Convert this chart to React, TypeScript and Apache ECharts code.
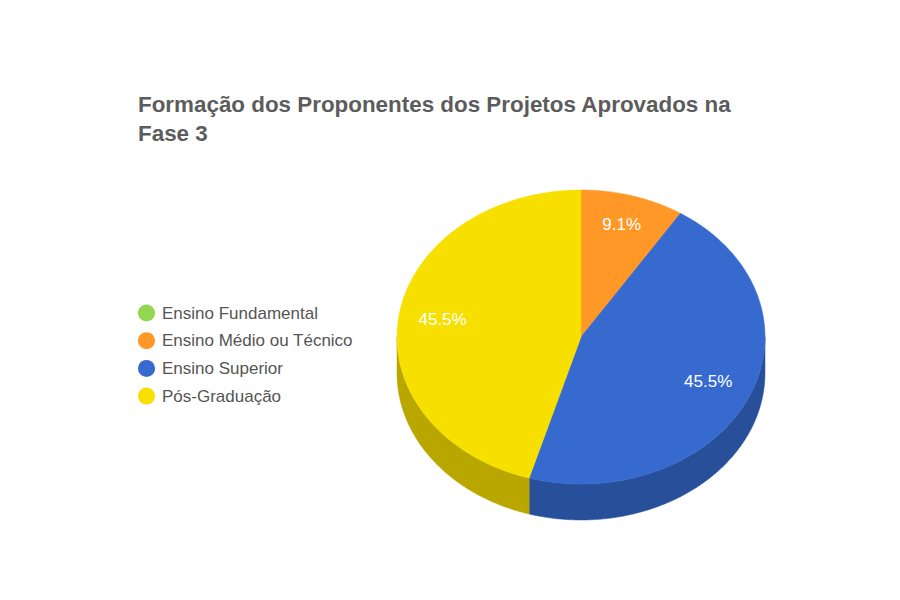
import React, { useEffect, useRef } from "react";
import * as echarts from "echarts";

const categories = ["Ensino Fundamental", "Ensino Médio ou Técnico", "Ensino Superior", "Pós-Graduação"];
const values = [0, 1, 5, 5];
const topColors = ["#93d64f", "#ff9826", "#366ace", "#f7df00"];
const sideColors = ["#6ea03b", "#bf721d", "#28509a", "#b9a700"];
const titleLines = ["Formação dos Proponentes dos Projetos Aprovados na", "Fase 3"];

const CX = 581;
const CY = 337;
const RX = 184;
const RY = 147;
const DEPTH = 36;
const LABEL_R = [0.77, 0.785, 0.76, 0.76];
const total = values.reduce((a, b) => a + b, 0);

const pt = (deg: number, rx: number, ry: number, dy = 0): number[] => {
  const a = (deg * Math.PI) / 180;
  return [CX + rx * Math.sin(a), CY + dy - ry * Math.cos(a)];
};

const arc = (from: number, to: number, dy = 0): number[][] => {
  const out: number[][] = [];
  const n = Math.max(2, Math.ceil((to - from) * 2));
  for (let i = 0; i <= n; i++) out.push(pt(from + ((to - from) * i) / n, RX, RY, dy));
  return out;
};

function makeSeries(index: number) {
  const before = values.slice(0, index).reduce((a, b) => a + b, 0);
  return {
    type: "custom",
    name: categories[index],
    coordinateSystem: "none",
    silent: true,
    itemStyle: { color: topColors[index] },
    data: [[values[index]]],
    renderItem: (_params: unknown, api: any) => {
      const v = api.value(0) as number;
      if (!v) return { type: "group", children: [] };
      const start = (before / total) * 360;
      const end = ((before + v) / total) * 360;
      const children: any[] = [];
      const wallFrom = Math.max(start, 90);
      const wallTo = Math.min(end, 270);
      if (wallTo > wallFrom) {
        children.push({
          type: "polygon",
          shape: { points: [...arc(wallFrom, wallTo), ...arc(wallFrom, wallTo, DEPTH).reverse()] },
          style: { fill: sideColors[index], stroke: sideColors[index], lineWidth: 0.5 },
        });
      }
      children.push({
        type: "polygon",
        shape: { points: [[CX, CY], ...arc(start, end)] },
        style: { fill: topColors[index], stroke: topColors[index], lineWidth: 0.5 },
      });
      const [lx, ly] = pt((start + end) / 2, RX * LABEL_R[index], RY * LABEL_R[index], -1.5);
      children.push({
        type: "text",
        x: lx,
        y: ly,
        style: {
          text: `${((v / total) * 100).toFixed(1)}%`,
          fill: "#ffffff",
          font: '17px "Liberation Sans", Arial, sans-serif',
          align: "center",
          verticalAlign: "middle",
        },
      });
      return { type: "group", children };
    },
  };
}

export default function App() {
  const ref = useRef<HTMLDivElement>(null);
  useEffect(() => {
    const chart = echarts.init(ref.current!, null, { renderer: "svg" });
    chart.setOption({
      animation: false,
      backgroundColor: "#ffffff",
      title: {
        text: titleLines.join("\n"),
        left: 133,
        top: 85,
        textStyle: {
          fontFamily: '"Liberation Sans", Arial, sans-serif',
          fontWeight: "bold",
          fontSize: 22.4,
          lineHeight: 29,
          color: "#5c5c5c",
        },
      },
      legend: {
        orient: "vertical",
        left: 133,
        top: 299.5,
        icon: "circle",
        itemWidth: 17,
        itemHeight: 17,
        itemGap: 10.7,
        selectedMode: false,
        data: categories,
        textStyle: {
          fontFamily: '"Liberation Sans", Arial, sans-serif',
          fontSize: 17,
          color: "#555555",
          padding: [0, 0, 0, 2],
        },
      },
      series: categories.map((_, i) => makeSeries(i)),
    });
    return () => chart.dispose();
  }, []);
  return <div ref={ref} style={{ position: "fixed", left: 0, top: 0, width: 900, height: 600 }} />;
}
